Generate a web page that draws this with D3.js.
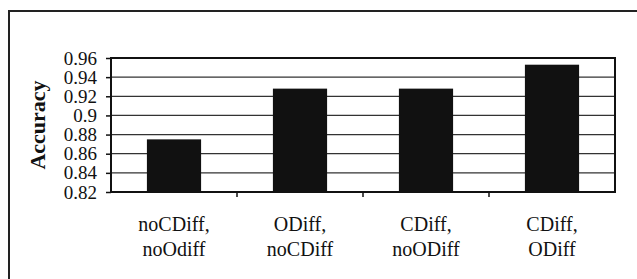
<!DOCTYPE html>
<html>
<head>
<meta charset="utf-8">
<script src="https://cdn.jsdelivr.net/npm/d3@7"></script>
<style>
  body { margin: 0; background: #fff; }
  text { font-family: "Liberation Serif", "Times New Roman", serif; fill: #111; }
</style>
</head>
<body>
<div id="chart"></div>
<script>
// Chart data
const categories = [["noCDiff,", "noOdiff"], ["ODiff,", "noCDiff"], ["CDiff,", "noODiff"], ["CDiff,", "ODiff"]]
const accuracy = [0.875, 0.928, 0.928, 0.953]
const yTicks = [0.82, 0.84, 0.86, 0.88, 0.9, 0.92, 0.94, 0.96]

function drawChart(container) {
    const WIDTH = 637
    const HEIGHT = 279
    const plot = { left: 111, top: 58, right: 615, bottom: 192 }

    let svg = d3.select(container).append("svg")
        .attr("width", WIDTH)
        .attr("height", HEIGHT)

    // outer frame, cut off at right and bottom as in the scan
    svg.append("path")
        .attr("d", `M9,${HEIGHT + 5} V11 H${WIDTH + 5}`)
        .attr("fill", "none")
        .attr("stroke", "#222")
        .attr("stroke-width", 2)

    const x = d3.scaleBand()
        .domain(d3.range(categories.length))
        .range([plot.left, plot.right])
        .paddingInner(0.57)
        .paddingOuter(0.285)

    const y = d3.scaleLinear()
        .domain([0.82, 0.96])
        .range([plot.bottom, plot.top])

    // gridlines
    svg.append("g")
        .selectAll("line")
        .data(yTicks.slice(1, -1))
        .enter()
        .append("line")
            .attr("x1", plot.left)
            .attr("x2", plot.right)
            .attr("y1", d => y(d))
            .attr("y2", d => y(d))
            .attr("stroke", "#333")
            .attr("stroke-width", 1.2)

    // bars
    svg.append("g")
        .selectAll("rect")
        .data(accuracy)
        .enter()
        .append("rect")
            .attr("x", (d, i) => x(i))
            .attr("y", d => y(d))
            .attr("width", x.bandwidth())
            .attr("height", d => y(0.82) - y(d))
            .attr("fill", "#111")

    // plot border
    svg.append("rect")
        .attr("x", plot.left)
        .attr("y", plot.top)
        .attr("width", plot.right - plot.left)
        .attr("height", plot.bottom - plot.top)
        .attr("fill", "none")
        .attr("stroke", "#111")
        .attr("stroke-width", 2)

    // y axis
    const yAxis = d3.axisLeft(y)
        .tickValues(yTicks)
        .tickFormat(d => String(+d.toFixed(2)))
        .tickSize(5)
        .tickPadding(9)
    svg.append("g")
        .attr("transform", `translate(${plot.left},0)`)
        .call(yAxis)
        .call(g => g.select(".domain").remove())
        .call(g => g.selectAll("line").attr("stroke", "#111").attr("stroke-width", 1.5))
        .call(g => g.selectAll("text")
            .attr("font-size", 19)
            .attr("font-family", "Liberation Serif")
            .attr("fill", "#111"))

    // x axis: ticks between categories
    svg.append("g")
        .selectAll("line")
        .data(d3.range(1, categories.length))
        .enter()
        .append("line")
            .attr("x1", i => plot.left + i * (plot.right - plot.left) / categories.length)
            .attr("x2", i => plot.left + i * (plot.right - plot.left) / categories.length)
            .attr("y1", plot.bottom)
            .attr("y2", plot.bottom + 5)
            .attr("stroke", "#111")
            .attr("stroke-width", 1.5)

    // category labels, two lines each
    let labels = svg.append("g")
        .selectAll("text")
        .data(categories)
        .enter()
        .append("text")
            .attr("text-anchor", "middle")
            .attr("font-size", 20)
    labels.selectAll("tspan")
        .data((d, i) => d.map(t => ({ t, i })))
        .enter()
        .append("tspan")
            .attr("x", d => x(d.i) + x.bandwidth() / 2)
            .attr("y", (d, j) => 231 + j * 25)
            .text(d => d.t)

    // y axis title
    svg.append("text")
        .attr("transform", "translate(45,125) rotate(-90)")
        .attr("text-anchor", "middle")
        .attr("font-size", 22)
        .attr("font-weight", "bold")
        .text("Accuracy")
}

drawChart("#chart")
</script>
</body>
</html>
